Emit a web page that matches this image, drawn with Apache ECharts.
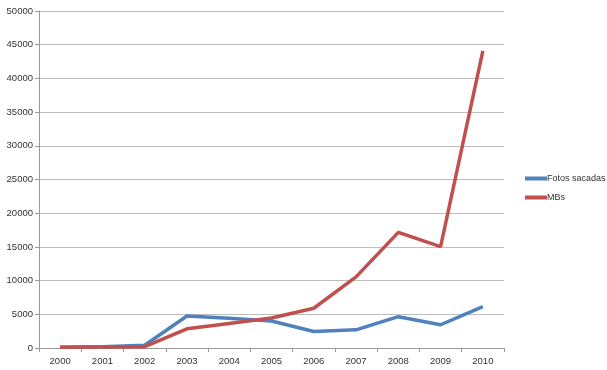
<!DOCTYPE html>
<html><head><meta charset="utf-8">
<script src="https://cdn.jsdelivr.net/npm/echarts@6/dist/echarts.min.js"></script>
<style>html,body{margin:0;padding:0;background:#fff}#c{width:607px;height:370px}</style>
</head><body><div id="c"></div>
<script>
var categories = ['2000','2001','2002','2003','2004','2005','2006','2007','2008','2009','2010'];
var fotosSacadas = [100, 200, 400, 4750, 4400, 4000, 2450, 2700, 4650, 3450, 6150];
var mbs = [100, 150, 200, 2850, 3650, 4450, 5900, 10550, 17150, 15050, 44100];
var seriesNames = ['Fotos sacadas', 'MBs'];

var chart = echarts.init(document.getElementById('c'));
chart.setOption({
  animation: false,
  textStyle: {fontFamily: 'Liberation Sans, Arial, sans-serif'},
  grid: {left: 39, top: 11, right: 103, bottom: 22},
  legend: {
    orient: 'vertical', left: 520, top: 169, itemGap: 10,
    itemWidth: 22, itemHeight: 4, icon: 'rect',
    textStyle: {fontSize: 9, color: '#333', padding: [0,0,0,-5]},
    data: seriesNames
  },
  xAxis: {
    type: 'category', data: categories, boundaryGap: true,
    axisLine: {lineStyle: {color: '#999'}},
    axisTick: {show: true, length: 4, lineStyle: {color: '#999'}},
    axisLabel: {fontSize: 9.5, color: '#333', margin: 8}
  },
  yAxis: {
    type: 'value', min: 0, max: 50000, interval: 5000,
    axisLine: {show: true, lineStyle: {color: '#999'}},
    axisTick: {show: true, length: 4, lineStyle: {color: '#999'}},
    axisLabel: {fontSize: 9.5, color: '#333', margin: 6, formatter: function (v) { return String(v); }},
    splitLine: {lineStyle: {color: '#bdbdbd', width: 1}}
  },
  series: [
    {name: seriesNames[0], type: 'line', data: fotosSacadas, symbol: 'none',
     lineStyle: {width: 3.5, color: '#4f81bd'}, itemStyle: {color: '#4f81bd'}},
    {name: seriesNames[1], type: 'line', data: mbs, symbol: 'none',
     lineStyle: {width: 3.5, color: '#c0504d'}, itemStyle: {color: '#c0504d'}}
  ]
});
</script></body></html>
